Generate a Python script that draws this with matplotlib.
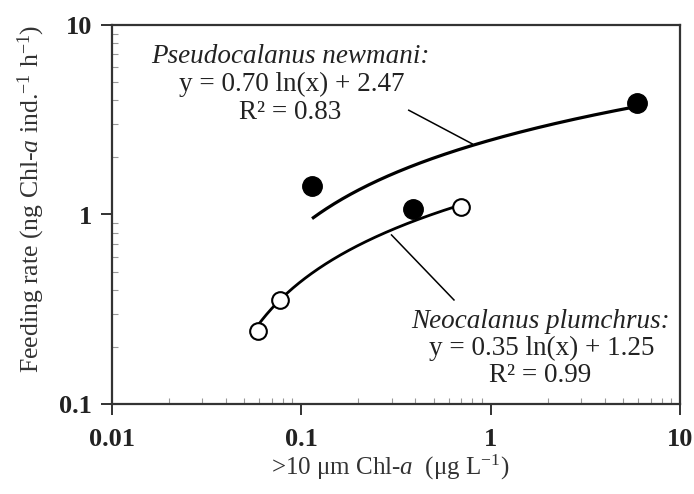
import numpy as np
import matplotlib
matplotlib.use("Agg")
import matplotlib.pyplot as plt
from matplotlib.ticker import FixedLocator, LogLocator, NullFormatter

plt.rcParams['font.family'] = ['Liberation Serif', 'DejaVu Serif']
plt.rcParams['mathtext.fontset'] = 'custom'
plt.rcParams['mathtext.rm'] = 'Liberation Serif'
plt.rcParams['mathtext.it'] = 'Liberation Serif:italic'
plt.rcParams['mathtext.bf'] = 'Liberation Serif:bold'

# Data: Pseudocalanus newmani (filled) and Neocalanus plumchrus (open)
pseudo_x = [0.114, 0.388, 5.9]
pseudo_y = [1.41, 1.065, 3.88]
neo_x = [0.0594, 0.0775, 0.698]
neo_y = [0.244, 0.354, 1.10]

# Logarithmic fits y = a ln(x) + b
pseudo_fit = (0.70, 2.47)
neo_fit = (0.35, 1.25)
pseudo_fit_range = (0.116, 5.9)
neo_fit_range = (0.0594, 0.698)

x_ticks = [0.01, 0.1, 1, 10]
x_ticklabels = ["0.01", "0.1", "1", "10"]
y_ticks = [0.1, 1, 10]
y_ticklabels = ["0.1", "1", "10"]

fig = plt.figure(figsize=(6.94, 4.94), dpi=100)
ax = fig.add_axes([111.7/694, 1-404/494, 568.3/694, 379/494])
ax.set_xscale('log')
ax.set_yscale('log')
ax.set_xlim(0.01, 10)
ax.set_ylim(0.1, 10)

# fit curves
xs = np.geomspace(*pseudo_fit_range, 200)
ax.plot(xs, pseudo_fit[0]*np.log(xs) + pseudo_fit[1], color='black', lw=2.3, zorder=2)
xs2 = np.geomspace(*neo_fit_range, 200)
ax.plot(xs2, neo_fit[0]*np.log(xs2) + neo_fit[1], color='black', lw=2.0, zorder=2)

# points
ax.plot(pseudo_x, pseudo_y, 'o', color='black', ms=14, zorder=4, linestyle='none')
ax.plot(neo_x, neo_y, 'o', mfc='white', mec='black', mew=1.5, ms=12, zorder=4, linestyle='none')

# leader lines
ax.plot([0.37, 0.80], [3.55, 2.36], color='black', lw=1.1, zorder=3)
ax.plot([0.30, 0.641], [0.78, 0.354], color='black', lw=1.1, zorder=3)

tc = '#222222'
fs = 19.5
ax.text(0.314, 0.916, "Pseudocalanus newmani:", transform=ax.transAxes, ha='center', va='center',
        fontsize=fs, style='italic', color=tc)
ax.text(0.317, 0.842, "y = 0.70 ln(x) + 2.47", transform=ax.transAxes, ha='center', va='center',
        fontsize=fs, color=tc)
ax.text(0.314, 0.768, "R² = 0.83", transform=ax.transAxes, ha='center', va='center',
        fontsize=fs, color=tc)
ax.text(0.754, 0.218, "Neocalanus plumchrus:", transform=ax.transAxes, ha='center', va='center',
        fontsize=fs, style='italic', color=tc)
ax.text(0.757, 0.146, "y = 0.35 ln(x) + 1.25", transform=ax.transAxes, ha='center', va='center',
        fontsize=fs, color=tc)
ax.text(0.754, 0.074, "R² = 0.99", transform=ax.transAxes, ha='center', va='center',
        fontsize=fs, color=tc)

# ticks
ax.xaxis.set_major_locator(FixedLocator(x_ticks))
ax.set_xticklabels(x_ticklabels)
ax.yaxis.set_major_locator(FixedLocator(y_ticks))
ax.set_yticklabels(y_ticklabels)
ax.xaxis.set_minor_locator(LogLocator(base=10, subs=np.arange(2, 10)))
ax.yaxis.set_minor_locator(LogLocator(base=10, subs=np.arange(2, 10)))
ax.xaxis.set_minor_formatter(NullFormatter())
ax.yaxis.set_minor_formatter(NullFormatter())
ax.tick_params(which='major', direction='out', length=8, width=1.3, color='#222222',
               labelsize=19)
ax.tick_params(axis='x', which='major', pad=9)
ax.tick_params(axis='y', which='major', pad=6)
ax.tick_params(which='minor', direction='in', length=4, width=0.8, color='#999999')
for lab in ax.get_xticklabels() + ax.get_yticklabels():
    lab.set_fontweight('bold')
    lab.set_color('#222222')

for sp in ax.spines.values():
    sp.set_linewidth(1.6)
    sp.set_color('#333333')

ax.set_ylabel(r"Feeding rate (ng Chl-$\it{a}$ ind.$^{-1}$ h$^{-1}$)", fontsize=18.5, color='#333333')
ax.yaxis.set_label_coords(-0.113, 0.541)
ax.set_xlabel(r">10 μm Chl-$\it{a}$  (μg L$^{-1}$)", fontsize=18, color='#333333')
ax.xaxis.set_label_coords(0.49, -0.128)

fig.savefig("out.png", dpi=100)
